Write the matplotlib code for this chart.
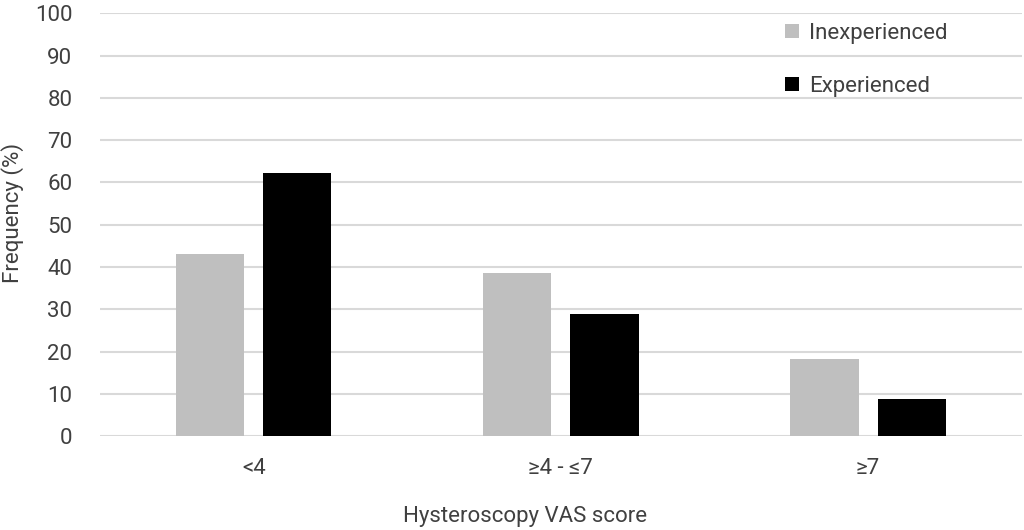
import matplotlib
matplotlib.use('Agg')
import matplotlib.pyplot as plt
from matplotlib.patches import Patch
import numpy as np

# data
categories = ['<4', '\u22654 - \u22647', '\u22657']
inexperienced = [43.0, 38.6, 18.3]
experienced = [62.2, 29.0, 8.8]
series_names = ['Inexperienced', 'Experienced']
yticks = [0, 10, 20, 30, 40, 50, 60, 70, 80, 90, 100]

plt.rcParams['font.family'] = ['Roboto', 'DejaVu Sans']
text_col = '#404040'
fs = 16

fig = plt.figure(figsize=(10.24, 5.30), dpi=100)
ax = fig.add_axes([0.0977, 0.177, 0.900, 0.798])

ind = np.arange(len(categories))
width = 0.222
offset = 0.142

ax.bar(ind - offset, inexperienced, width, color='#BFBFBF', zorder=3)
ax.bar(ind + offset, experienced, width, color='#000000', zorder=3)

ax.set_xlim(-0.5, len(categories) - 0.5)
ax.set_ylim(0, 100)
ax.set_yticks(yticks)
ax.yaxis.grid(True, color='#D9D9D9', linewidth=1.5, zorder=0)
ax.set_axisbelow(True)
for s in ax.spines.values():
  s.set_visible(False)

ax.set_xticks(ind)
ax.set_xticklabels(categories)
ax.tick_params(axis='y', length=0, pad=20, labelsize=fs, labelcolor=text_col)
ax.tick_params(axis='x', length=0, pad=16, labelsize=fs, labelcolor=text_col)

ax.set_ylabel('Frequency (%)', fontsize=fs, color=text_col)
ax.yaxis.set_label_coords(-0.083, 0.527)
ax.set_xlabel('Hysteroscopy VAS score', fontsize=fs, color=text_col)
ax.xaxis.set_label_coords(0.461, -0.165)

handles = [Patch(facecolor='#BFBFBF'), Patch(facecolor='#000000')]
ax.legend(handles, series_names, loc='upper left', bbox_to_anchor=(0.722, 1.025),
          frameon=False, fontsize=fs, handlelength=0.6, handleheight=0.6,
          handletextpad=0.45, labelspacing=1.45, labelcolor=text_col)

fig.savefig('out.png', dpi=100)
